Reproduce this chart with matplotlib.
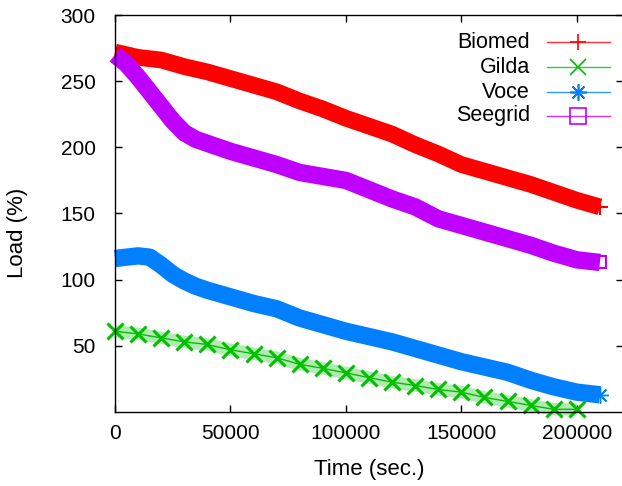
import numpy as np
import matplotlib
matplotlib.use("Agg")
import matplotlib.pyplot as plt
from matplotlib.lines import Line2D

plt.rcParams["font.family"] = ["Liberation Sans", "DejaVu Sans"]

# values (time in seconds, load in %)
t_biomed = [0, 10000, 20000, 30000, 40000, 50000, 60000, 70000, 80000, 90000, 100000,
            110000, 120000, 130000, 140000, 150000, 160000, 170000, 180000, 190000,
            200000, 210000]
biomed = [272, 268, 266, 261, 257, 252, 247, 242, 235, 229, 222,
          216, 210, 202, 195, 187, 182, 177, 172, 166, 160, 155]

t_gilda = [0, 10000, 20000, 30000, 40000, 50000, 60000, 70000, 80000, 90000, 100000,
           110000, 120000, 130000, 140000, 150000, 160000, 170000, 180000, 190000, 200000]
gilda = [61, 59, 56, 53, 51, 47, 44, 41, 36, 33, 29.5,
         26, 22.5, 20, 17, 15, 11, 8, 5, 2, 2]

t_voce = [0, 5000, 10000, 15000, 20000, 25000, 30000, 35000, 40000, 50000, 60000,
          70000, 80000, 90000, 100000, 110000, 120000, 130000, 140000, 150000,
          160000, 170000, 180000, 190000, 200000, 210000]
voce = [116, 117, 118, 117, 111, 104, 99, 95, 92, 87, 82,
        78, 71, 66, 61, 57, 53, 48, 43, 38,
        34, 30, 24, 19, 15, 13]

t_seegrid = [0, 5000, 10000, 15000, 20000, 25000, 30000, 35000, 40000, 50000, 60000,
             70000, 80000, 90000, 100000, 110000, 120000, 130000, 140000, 150000,
             160000, 170000, 180000, 190000, 200000, 210000]
seegrid = [270, 263, 253, 242, 231, 220, 211, 206, 203, 197, 192,
           187, 181, 178, 175, 168, 161, 155, 146, 141,
           136, 131, 126, 120, 115, 113]

names = ["Biomed", "Gilda", "Voce", "Seegrid"]
colors = ["#ff0000", "#00c000", "#0080ff", "#c000ff"]
markers = ["+", "x", (8, 2, 0), "s"]

fig = plt.figure(figsize=(6.22, 4.86), dpi=100)
ax = fig.add_axes([0.1849, 0.1523, 0.8167, 0.8168])

# dense marker bands drawn as thick lines, single markers left visible at the ends
band = dict(solid_capstyle="butt", solid_joinstyle="round", clip_on=False)
ax.plot(t_biomed, biomed, color=colors[0], lw=12, **band)
ax.plot(t_biomed, biomed, color=colors[0], lw=0, marker="+", ms=12, mew=1.5,
        markevery=[-1], clip_on=False)

ax.plot(t_gilda, gilda, color=colors[1], lw=9, alpha=0.3, solid_capstyle="butt", clip_on=False)
ax.plot(t_gilda, gilda, color=colors[1], lw=1, marker="x", ms=12, mew=2.2, clip_on=False)

ax.plot(t_voce, voce, color=colors[2], lw=12.5, **band)
ax.plot(t_voce, voce, color=colors[2], lw=0, marker=(8, 2, 0), ms=12, mew=1,
        markevery=[-1], clip_on=False)

ax.plot(t_seegrid, seegrid, color=colors[3], lw=12.5, **band)
ax.plot(t_seegrid, seegrid, color=colors[3], lw=0, marker="s", ms=9, mfc="none", mew=1.5,
        markevery=[-1], clip_on=False)

ax.set_xlim(0, 220000)
ax.set_ylim(0, 300)
ax.set_xticks([0, 50000, 100000, 150000, 200000])
ax.set_yticks([50, 100, 150, 200, 250, 300])
ax.tick_params(direction="in", length=5, width=1, top=True, right=True, labelsize=15)
ax.tick_params(axis="x", pad=9)
ax.tick_params(axis="y", pad=14)
for s in ax.spines.values():
    s.set_linewidth(1)

ax.set_xlabel("Time (sec.)", fontsize=16, labelpad=11)
ax.set_ylabel("Load (%)", fontsize=16)
ax.yaxis.set_label_coords(-0.172, 0.451)

# gnuplot style key: right aligned names, sample to the right
rows = [0.932, 0.869, 0.806, 0.746]
for name, c, m, yr in zip(names, colors, markers, rows):
    ax.text(0.817, yr, name, ha="right", va="center", fontsize=15.5, transform=ax.transAxes)
    ax.add_line(Line2D([0.850, 0.974], [yr, yr], color=c, lw=1, alpha=0.8,
                       transform=ax.transAxes, clip_on=False))
    ax.add_line(Line2D([0.912], [yr], color=c, lw=0, marker=m, ms=12,
                       mfc="none", mew=1.2, transform=ax.transAxes, clip_on=False))

fig.savefig("out.png", dpi=100)
